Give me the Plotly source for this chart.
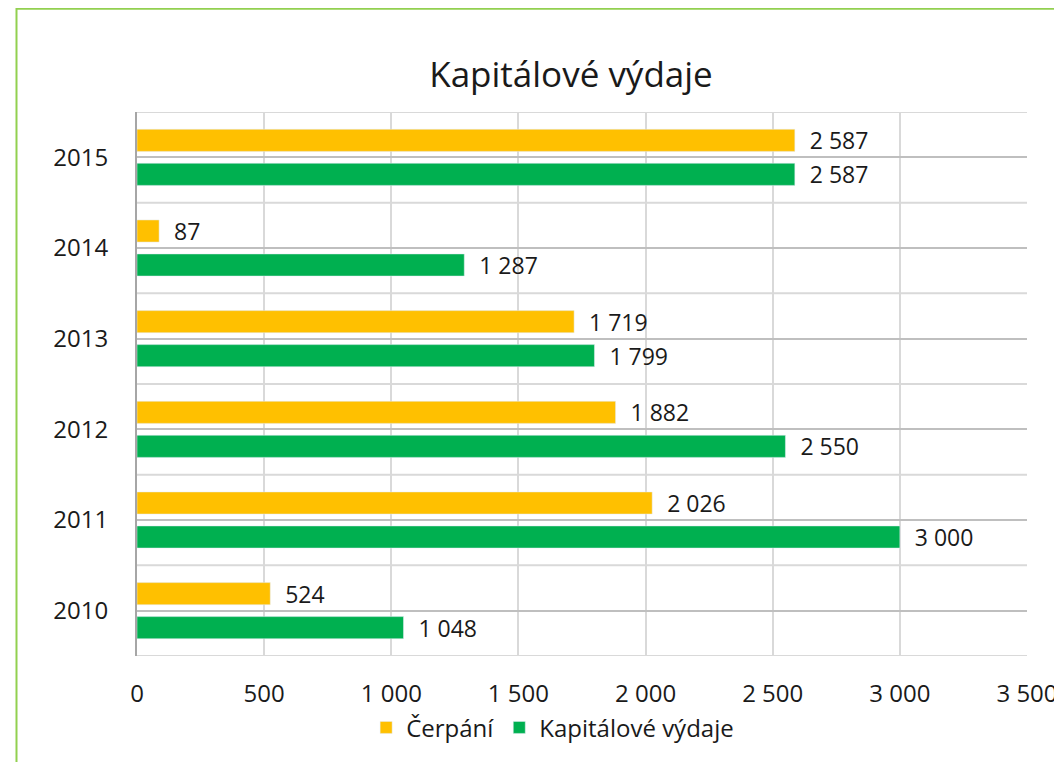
import plotly.graph_objects as go

years = ["2010", "2011", "2012", "2013", "2014", "2015"]
cerpani = [524, 2026, 1882, 1719, 87, 2587]
kapitalove = [1048, 3000, 2550, 1799, 1287, 2587]

FONT = "Open Sans, Noto Sans, sans-serif"
INK = "#1a1a1a"

fig = go.Figure()

# green first so it sits below the yellow bar inside each year group
fig.add_trace(go.Bar(
    y=years, x=kapitalove, orientation="h", name="Kapitálové výdaje",
    marker=dict(color="#00B050"), legendrank=2,
    texttemplate="  %{x:,}", textposition="outside", cliponaxis=False,
    constraintext="none",
    textfont=dict(size=23, color=INK, family=FONT),
))
fig.add_trace(go.Bar(
    y=years, x=cerpani, orientation="h", name="Čerpání",
    marker=dict(color="#FFC000"), legendrank=1,
    texttemplate="  %{x:,}", textposition="outside", cliponaxis=False,
    constraintext="none",
    textfont=dict(size=23, color=INK, family=FONT),
))

# light lines on the year boundaries
shapes = []
for i in range(len(years) + 1):
    shapes.append(dict(type="line", xref="paper", x0=0, x1=1, yref="y",
                       y0=i - 0.5, y1=i - 0.5, layer="below",
                       line=dict(color="#D9D9D9", width=2)))
# outer green frame
shapes.append(dict(type="rect", xref="paper", yref="paper",
                   x0=-0.1354, x1=1.2, y0=-0.3, y1=1.19,
                   line=dict(color="#92D050", width=2), layer="below"))

fig.update_layout(
    width=1062, height=762,
    margin=dict(l=129, r=43, t=104, b=114),
    paper_bgcolor="white", plot_bgcolor="white",
    separators=", ",
    barmode="group", bargap=0.25, bargroupgap=0.35,
    font=dict(family=FONT, color=INK),
    title=dict(text="Kapitálové výdaje", x=563 / 1062, xref="container",
               xanchor="center", y=1 - 67 / 762, yref="container",
               yanchor="middle", font=dict(size=35, color=INK)),
    legend=dict(orientation="h", x=0.467, xanchor="center", y=-0.132,
                yanchor="middle", font=dict(size=24), itemwidth=30,
                tracegroupgap=0),
    shapes=shapes,
)
fig.update_xaxes(
    range=[0, 3500], dtick=500, tick0=0, tickformat=",",
    showgrid=True, gridcolor="#D9D9D9", gridwidth=2,
    zeroline=False, showline=False,
    tickfont=dict(size=24), ticklabelstandoff=21,
)
fig.update_yaxes(
    type="category", range=[-0.5, 5.5],
    showgrid=True, gridcolor="#BFBFBF", gridwidth=2,
    showline=True, linecolor="#A6A6A6", linewidth=2,
    tickfont=dict(size=24), ticklabelstandoff=22,
)

fig.write_html("out.html")
